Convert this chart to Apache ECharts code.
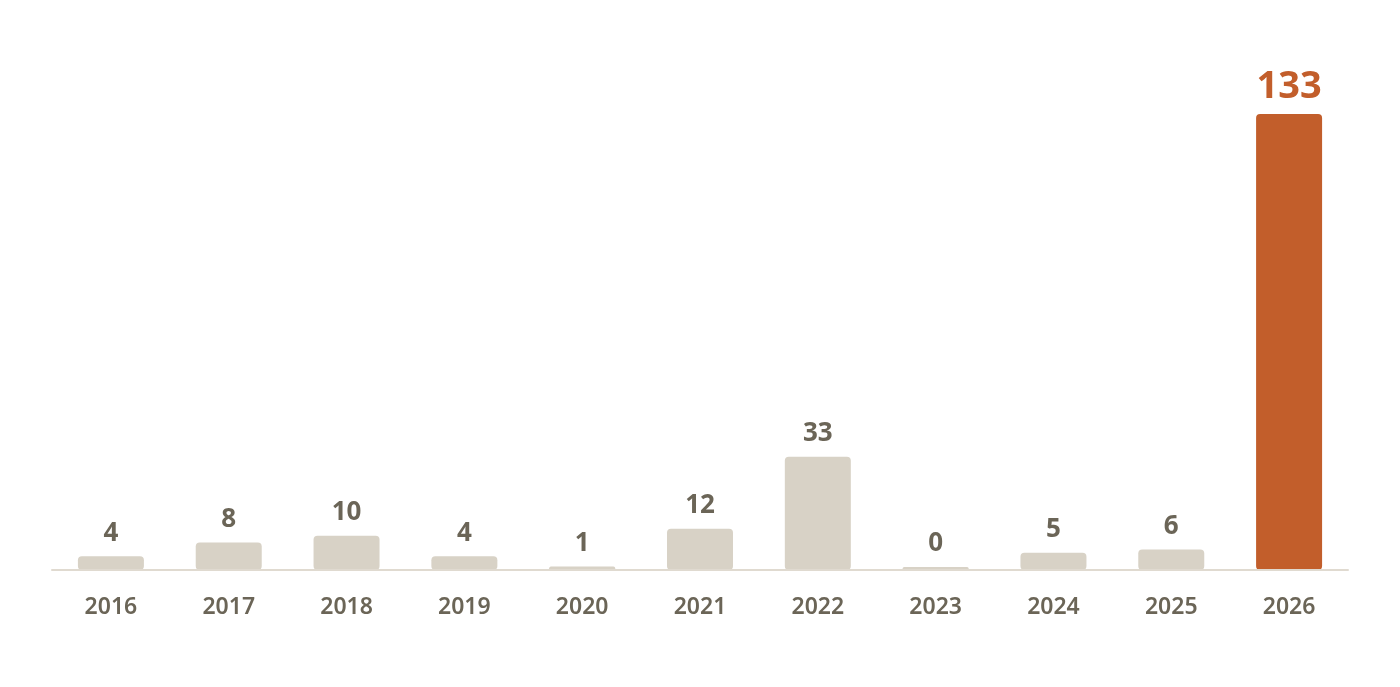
<!DOCTYPE html>
<html>
<head>
<meta charset="utf-8">
<script src="https://cdn.jsdelivr.net/npm/echarts@6/dist/echarts.min.js"></script>
<style>
  html, body { margin: 0; padding: 0; background: #fff; }
  #drew { width: 1400px; height: 687px; }
</style>
</head>
<body>
<div id="drew"></div>
<script>
var years = ['2016', '2017', '2018', '2019', '2020', '2021', '2022', '2023', '2024', '2025', '2026'];
var counts = [4, 8, 10, 4, 1, 12, 33, 0, 5, 6, 133];
var highlightYear = '2026';

var greyBar = '#d8d2c6';
var accent = '#c25e2b';
var textGrey = '#6b6557';
var fontName = '"Noto Sans", sans-serif';

var myChart = echarts.init(document.getElementById('drew'));

var barData = counts.map(function (v, i) {
    var hot = years[i] === highlightYear;
    return {
        value: v,
        itemStyle: { color: hot ? accent : greyBar },
        label: hot ? { color: accent, fontSize: 38, distance: 8 } : {}
    };
});

var option = {
    backgroundColor: '#fff',
    animation: false,
    grid: { left: 52, right: 52, top: 114, bottom: 117 },
    xAxis: {
        type: 'category',
        data: years,
        axisTick: { show: false },
        axisLine: { lineStyle: { color: '#e0dad0', width: 2 } },
        axisLabel: {
            color: textGrey,
            fontFamily: fontName,
            fontWeight: 600,
            fontSize: 23,
            margin: 26
        },
        z: 3
    },
    yAxis: {
        type: 'value',
        min: 0,
        max: 133,
        show: false,
        splitLine: { show: false }
    },
    series: [{
        type: 'bar',
        data: barData,
        barWidth: 66,
        barMinHeight: 3,
        itemStyle: { borderRadius: 4 },
        label: {
            show: true,
            position: 'top',
            distance: 10,
            color: textGrey,
            fontFamily: fontName,
            fontWeight: 'bold',
            fontSize: 26
        }
    }]
};

myChart.setOption(option);
window.addEventListener('resize', function () {
    myChart.resize();
});
</script>
</body>
</html>
